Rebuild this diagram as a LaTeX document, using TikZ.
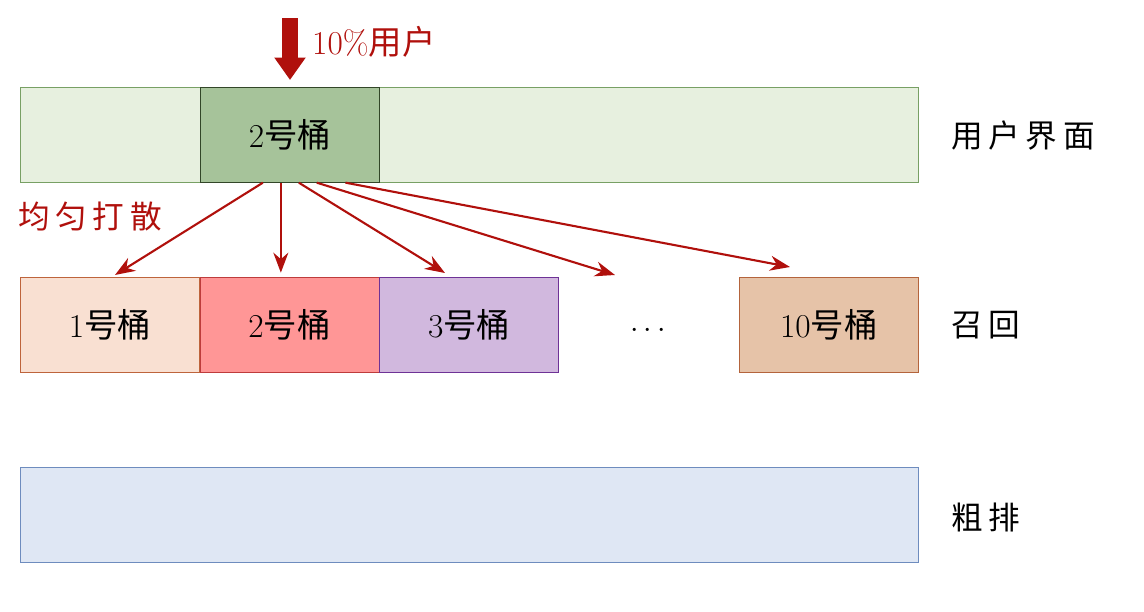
\documentclass[tikz,border=0pt]{standalone}
\usepackage{fontspec}
\newfontfamily\cjk{Noto Sans CJK SC}
\newfontfamily\cjkwide[LetterSpace=18]{Noto Sans CJK SC}
\usetikzlibrary{arrows.meta, positioning, calc}
\definecolor{darkred}{HTML}{B0100C}
\tikzset{
    bar/.style={rectangle, minimum width=17.96cm, minimum height=1.9cm, draw, anchor=north west},
    bucket/.style={rectangle, minimum width=3.58cm, minimum height=1.9cm, draw, font=\fontsize{19}{22}\selectfont},
    rowlabel/.style={font=\fontsize{18}{22}\selectfont\cjkwide, anchor=west},
    spread/.style={draw=darkred, very thick, -{Stealth[length=4mm, width=3mm]}}
}

\begin{document}
\begin{tikzpicture}[x=0.02cm, y=-0.02cm]
    \useasboundingbox (0,0) rectangle (1144,612);
    % rows
    \node (ui) [bar, fill={rgb,255:red,231;green,240;blue,223}, draw={rgb,255:red,120;green,160;blue,100}] at (20,87) {};
    \node (rank) [bar, fill={rgb,255:red,223;green,231;blue,244}, draw={rgb,255:red,110;green,140;blue,190}] at (20,467) {};
    \node (top) [bucket, anchor=north west, fill={rgb,255:red,166;green,195;blue,154}, draw={rgb,255:red,50;green,70;blue,40}] at (200,87) {2{\cjk 号桶}};

    % recall buckets
    \node (r1) [bucket, anchor=north west, fill={rgb,255:red,249;green,224;blue,210}, draw={rgb,255:red,190;green,100;blue,60}] at (20,277) {1{\cjk 号桶}};
    \node (r2) [bucket, right=0pt of r1, fill={rgb,255:red,255;green,150;blue,150}, draw={rgb,255:red,190;green,60;blue,60}] {2{\cjk 号桶}};
    \node (r3) [bucket, right=0pt of r2, fill={rgb,255:red,209;green,184;blue,222}, draw={rgb,255:red,110;green,50;blue,150}] {3{\cjk 号桶}};
    \node (r10) [bucket, anchor=north west, fill={rgb,255:red,230;green,195;blue,168}, draw={rgb,255:red,180;green,100;blue,60}] at (739,277) {10{\cjk 号桶}};
    \node (dots) [font=\fontsize{19}{22}\selectfont] at (648,331) {$\cdots$};

    % labels
    \node (lui) [rowlabel] at (945,135) {用户界面};
    \node (lrecall) [rowlabel] at (945,325) {召回};
    \node (lrank) [rowlabel] at (945,517) {粗排};

    % traffic
    \coordinate (in) at (290,18);
    \coordinate (hit) at (290,80);
    \draw[darkred, line width=9pt, -{Triangle[length=4.5mm, width=6mm]}] (in) -- (hit);
    \node (pct) [anchor=west, text=darkred, font=\fontsize{19}{22}\selectfont] at (306,42) {10\%{\cjk 用户}};
    \node (shuffle) [text=darkred, font=\fontsize{18}{22}\selectfont\cjkwide] at (90,217) {均匀打散};

    \coordinate (e4) at (615,275);
    \coordinate (e10) at (790,267);
    \draw[spread] ($(top.south west)!0.35!(top.south east)$) -- (115,275);
    \draw[spread] ($(top.south west)!0.45!(top.south east)$) -- ($(top.south west)!0.45!(top.south east)+(0,90)$);
    \draw[spread] ($(top.south west)!0.55!(top.south east)$) -- (445,273);
    \draw[spread] ($(top.south west)!0.65!(top.south east)$) -- (e4);
    \draw[spread] ($(top.south west)!0.81!(top.south east)$) -- (e10);
\end{tikzpicture}
\end{document}
